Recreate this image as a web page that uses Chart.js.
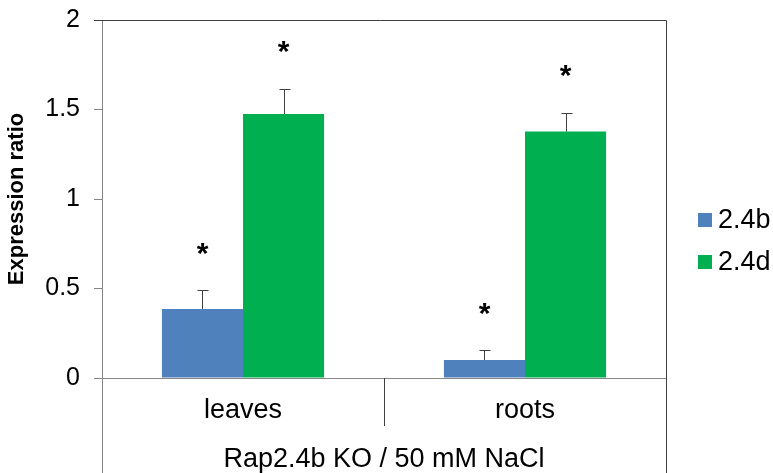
<!DOCTYPE html>
<html>
<head>
<meta charset="utf-8">
<script src="https://cdn.jsdelivr.net/npm/chart.js@4.4.1/dist/chart.umd.min.js"></script>
<style>
  html, body { margin: 0; padding: 0; background: #fff; }
</style>
</head>
<body>
<canvas id="chart" width="773" height="473"></canvas>
<script>
// data
const categories = ["leaves", "roots"];
const seriesNames = ["2.4b", "2.4d"];
const values24b = [0.385, 0.10];
const values24d = [1.475, 1.377];
const errors24b = [0.105, 0.055];
const errors24d = [0.14, 0.103];
const stars24b = ["*", "*"];
const stars24d = ["*", "*"];
const yTicks = [0, 0.5, 1, 1.5, 2];
const groupLabel = "Rap2.4b KO / 50 mM NaCl";
const yTitle = "Expression ratio";

const FONT = "'Liberation Sans', Arial, sans-serif";
const BLUE = "#4F81BD";
const GREEN = "#00B050";
const AXIS = "#868686";
const DARK = "#404040";

function crisp(v) {
    return Math.round(v) + 0.5;
}

// error bars (upper only) and significance stars
const errorBarPlugin = {
    id: "errorBars",
    afterDatasetsDraw(chart) {
        const ctx = chart.ctx;
        const y = chart.scales.y;
        ctx.save();
        chart.data.datasets.forEach(function (ds, i) {
            const meta = chart.getDatasetMeta(i);
            meta.data.forEach(function (bar, j) {
                const x = crisp(bar.x);
                const yTop = y.getPixelForValue(ds.data[j] + ds.errors[j]);
                const yBar = y.getPixelForValue(ds.data[j]);
                ctx.strokeStyle = DARK;
                ctx.lineWidth = 1;
                ctx.beginPath();
                ctx.moveTo(x, yBar);
                ctx.lineTo(x, crisp(yTop));
                ctx.moveTo(x - 5, crisp(yTop));
                ctx.lineTo(x + 6, crisp(yTop));
                ctx.stroke();

                ctx.fillStyle = "#000";
                ctx.font = "bold 30px " + FONT;
                ctx.textAlign = "center";
                ctx.textBaseline = "middle";
                ctx.fillText(ds.stars[j], bar.x, yTop - 36);
            });
        });
        ctx.restore();
    }
};

// frame, category divider and legend
const framePlugin = {
    id: "frame",
    afterDraw(chart) {
        const ctx = chart.ctx;
        const area = chart.chartArea;
        const x = chart.scales.x;
        const h = chart.height;
        ctx.save();
        ctx.lineWidth = 1;

        ctx.strokeStyle = DARK;
        ctx.beginPath();
        ctx.moveTo(area.left - 8, crisp(area.top));
        ctx.lineTo(crisp(area.right), crisp(area.top));
        ctx.lineTo(crisp(area.right), h);
        ctx.stroke();

        ctx.strokeStyle = AXIS;
        ctx.beginPath();
        ctx.moveTo(crisp(area.left), area.bottom);
        ctx.lineTo(crisp(area.left), h);
        ctx.stroke();

        ctx.strokeStyle = DARK;
        for (let i = 0; i < categories.length - 1; i++) {
            const xm = crisp((x.getPixelForTick(i) + x.getPixelForTick(i + 1)) / 2);
            ctx.beginPath();
            ctx.moveTo(xm, area.bottom);
            ctx.lineTo(xm, area.bottom + 48);
            ctx.stroke();
        }

        // legend
        const colors = chart.data.datasets.map(function (d) { return d.backgroundColor; });
        ctx.font = "27px " + FONT;
        ctx.textAlign = "left";
        ctx.textBaseline = "middle";
        seriesNames.forEach(function (name, i) {
            const cy = 220 + i * 42;
            ctx.fillStyle = colors[i];
            ctx.fillRect(area.right + 32, cy - 7, 14, 14);
            ctx.fillStyle = "#000";
            ctx.fillText(name, area.right + 52, cy + 1);
        });
        ctx.restore();
    }
};

new Chart(document.getElementById("chart"), {
    type: "bar",
    data: {
        labels: categories,
        datasets: [
            {
                label: seriesNames[0],
                data: values24b,
                errors: errors24b,
                stars: stars24b,
                backgroundColor: BLUE,
                barPercentage: 1,
                categoryPercentage: 0.575
            },
            {
                label: seriesNames[1],
                data: values24d,
                errors: errors24d,
                stars: stars24d,
                backgroundColor: GREEN,
                barPercentage: 1,
                categoryPercentage: 0.575
            }
        ]
    },
    options: {
        responsive: false,
        animation: false,
        layout: { padding: { top: 20, right: 107, bottom: 0, left: 0 } },
        plugins: {
            legend: { display: false },
            tooltip: { enabled: false }
        },
        scales: {
            x: {
                grid: { display: false, drawTicks: false },
                border: { color: AXIS, width: 1 },
                ticks: { color: "#000", font: { family: FONT, size: 27 }, padding: 16 },
                title: {
                    display: true,
                    text: groupLabel,
                    color: "#000",
                    font: { family: FONT, size: 27, lineHeight: 1 },
                    padding: { top: 0, bottom: 0 }
                },
                afterFit: function (s) {
                    s.height = 95;
                    s.paddingLeft = 0;
                    s.paddingRight = 0;
                }
            },
            y: {
                min: 0,
                max: 2,
                afterBuildTicks: function (s) {
                    s.ticks = yTicks.map(function (v) { return { value: v }; });
                },
                grid: { drawOnChartArea: false, drawTicks: true, tickLength: 8, color: AXIS },
                border: { color: AXIS, width: 1 },
                ticks: {
                    color: "#000",
                    font: { family: FONT, size: 25 },
                    padding: 14,
                    callback: function (v) { return String(v); }
                },
                title: {
                    display: true,
                    text: yTitle,
                    color: "#000",
                    font: { family: FONT, size: 22, weight: "bold" },
                    padding: { top: 4, bottom: 0 }
                },
                afterFit: function (s) {
                    s.width = 102;
                    s.paddingTop = 0;
                    s.paddingBottom = 0;
                }
            }
        }
    },
    plugins: [errorBarPlugin, framePlugin]
});
</script>
</body>
</html>
